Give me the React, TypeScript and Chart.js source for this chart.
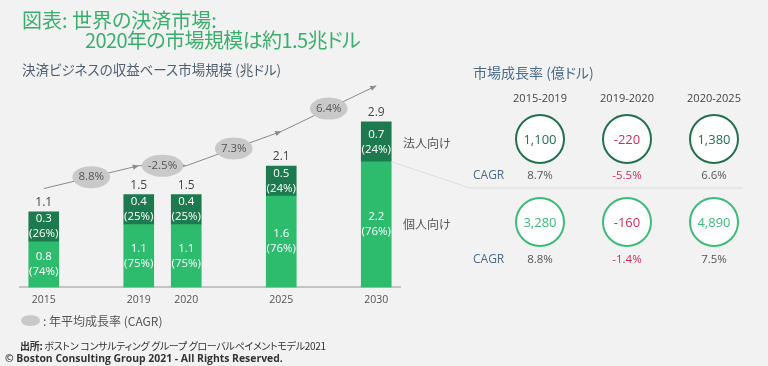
import { useEffect, useRef } from 'react';
import { Chart, registerables } from 'chart.js';

Chart.register(...registerables);

// ---- data ----
const categories = ['2015', '', '2019', '2020', '', '2025', '', '2030'];
const personalValues = [0.8, null, 1.1, 1.1, null, 1.6, null, 2.2];
const corporateValues = [0.3, null, 0.4, 0.4, null, 0.5, null, 0.7];
const personalShare = [74, null, 75, 75, null, 76, null, 76];
const corporateShare = [26, null, 25, 25, null, 24, null, 24];
const totalValues = [1.1, null, 1.5, 1.5, null, 2.1, null, 2.9];
const trendCagr = ['8.8%', '-2.5%', '7.3%', '6.4%'];

const periods = ['2015-2019', '2019-2020', '2020-2025'];
const corporateGrowth = [1100, -220, 1380];
const corporateCagr = [8.7, -5.5, 6.6];
const personalGrowth = [3280, -160, 4890];
const personalCagr = [8.8, -1.4, 7.5];

// ---- styles ----
const DARK = '#1d7a4e';
const LIGHT = '#2dbb6e';
const TITLE_GREEN = '#3aae6b';
const RED = '#d42a5b';
const CIRCLE_DARK = '#23704f';
const CIRCLE_LIGHT = '#3dbb7a';
const SLATE = '#4a6b8a';
const LATIN = '"Open Sans", "Noto Sans CJK JP", sans-serif';
const JP = '"Noto Sans CJK JP", sans-serif';

const overlayPlugin = {
  id: 'overlay',
  afterDatasetsDraw(chart: any) {
    const ctx = chart.ctx as CanvasRenderingContext2D;
    const yScale = chart.scales.y;
    const metaP = chart.getDatasetMeta(0);
    const metaC = chart.getDatasetMeta(1);
    ctx.save();
    ctx.textAlign = 'center';
    ctx.textBaseline = 'middle';

    const segLabel = (el: any, v: number, s: number) => {
      const cy = (el.y + el.base) / 2;
      ctx.fillStyle = '#ffffff';
      ctx.font = `11.5px ${LATIN}`;
      ctx.fillText(v.toFixed(1), el.x, cy - 7.5);
      ctx.fillText(`(${s}%)`, el.x, cy + 7.5);
    };

    const idx: number[] = [];
    categories.forEach((_, i) => {
      if (totalValues[i] == null) return;
      idx.push(i);
      const p = metaP.data[i];
      const c = metaC.data[i];
      segLabel(p, personalValues[i] as number, personalShare[i] as number);
      segLabel(c, corporateValues[i] as number, corporateShare[i] as number);
      ctx.fillStyle = '#444';
      ctx.font = `12px ${LATIN}`;
      ctx.fillText((totalValues[i] as number).toFixed(1), c.x, c.y - 9);
    });

    // connector line from last bar to right panel divider
    const last = metaC.data[idx[idx.length - 1]];
    ctx.strokeStyle = '#dcdcdc';
    ctx.lineWidth = 1;
    ctx.beginPath();
    ctx.moveTo(last.x + last.width / 2, last.base);
    ctx.lineTo(470, 188);
    ctx.lineTo(743, 188);
    ctx.stroke();

    // CAGR trend arrow
    const pts = idx.map((i) => ({
      x: metaC.data[i].x,
      y: yScale.getPixelForValue(totalValues[i]) - 36,
    }));
    ctx.strokeStyle = '#8a8a8a';
    ctx.fillStyle = '#8a8a8a';
    ctx.lineWidth = 1;
    ctx.beginPath();
    pts.forEach((p, k) => (k === 0 ? ctx.moveTo(p.x, p.y) : ctx.lineTo(p.x, p.y)));
    ctx.stroke();
    for (let k = 1; k < pts.length; k++) {
      const a = pts[k - 1], b = pts[k];
      const ang = Math.atan2(b.y - a.y, b.x - a.x);
      const L = 6, W = 2.6;
      ctx.beginPath();
      ctx.moveTo(b.x, b.y);
      ctx.lineTo(b.x - L * Math.cos(ang) + W * Math.sin(ang), b.y - L * Math.sin(ang) - W * Math.cos(ang));
      ctx.lineTo(b.x - L * Math.cos(ang) - W * Math.sin(ang), b.y - L * Math.sin(ang) + W * Math.cos(ang));
      ctx.closePath();
      ctx.fill();
    }
    ctx.font = `11.5px ${LATIN}`;
    for (let k = 1; k < pts.length; k++) {
      const a = pts[k - 1], b = pts[k];
      const mx = (a.x + b.x) / 2, my = (a.y + b.y) / 2;
      const label = trendCagr[k - 1];
      const tw = ctx.measureText(label).width;
      ctx.fillStyle = '#c9c9c9';
      ctx.beginPath();
      ctx.ellipse(mx, my, tw / 2 + 6, 11, 0, 0, Math.PI * 2);
      ctx.fill();
      ctx.fillStyle = '#555';
      ctx.fillText(label, mx, my);
    }
    ctx.restore();
  },
};

function Txt(props: { x: number; y: number; size: number; color: string; children: any; bold?: boolean; center?: boolean; family?: string; spacing?: number }) {
  const { x, y, size, color, children, bold, center, family, spacing } = props;
  return (
    <div
      style={{
        position: 'absolute',
        left: center ? x - 100 : x,
        width: center ? 200 : undefined,
        textAlign: center ? 'center' : 'left',
        top: y - size / 2,
        fontSize: size,
        lineHeight: `${size}px`,
        color,
        fontWeight: bold ? 700 : 400,
        fontFamily: family || JP,
        fontFeatureSettings: '"palt"',
        letterSpacing: spacing ? `${spacing}px` : undefined,
        whiteSpace: 'nowrap',
      }}
    >
      {children}
    </div>
  );
}

function Circle({ x, y, value, color }: { x: number; y: number; value: number; color: string }) {
  const textColor = value < 0 ? RED : color;
  return (
    <div
      style={{
        position: 'absolute',
        left: x - 25,
        top: y - 25,
        width: 50,
        height: 50,
        boxSizing: 'border-box',
        border: `2px solid ${color}`,
        borderRadius: '50%',
        background: '#ffffff',
        display: 'flex',
        alignItems: 'center',
        justifyContent: 'center',
        fontFamily: LATIN,
        fontSize: 13,
        color: textColor,
      }}
    >
      {value.toLocaleString('en-US')}
    </div>
  );
}

export default function App() {
  const ref = useRef<HTMLCanvasElement>(null);
  useEffect(() => {
    document.body.style.margin = '0';
    document.body.style.background = '#f2f2f2';
    const chart = new Chart(ref.current as HTMLCanvasElement, {
      type: 'bar',
      data: {
        labels: categories,
        datasets: [
          { label: '個人向け', data: personalValues as any, backgroundColor: LIGHT, stack: 's', barThickness: 30 } as any,
          { label: '法人向け', data: corporateValues as any, backgroundColor: DARK, stack: 's', barThickness: 30, minBarLength: 30 } as any,
        ],
      },
      options: {
        responsive: false,
        animation: false,
        layout: { padding: { left: 20, right: 368, top: 87.5, bottom: 54 } },
        plugins: { legend: { display: false }, tooltip: { enabled: false } },
        scales: {
          x: {
            stacked: true,
            grid: { display: false, drawTicks: false },
            border: { display: true, color: '#c4c4c4', width: 2 },
            ticks: { color: '#555', font: { size: 10.5, family: LATIN }, padding: 6, autoSkip: false, maxRotation: 0 },
          },
          y: { stacked: true, display: false, min: 0, max: 3.5 },
        },
      },
      plugins: [overlayPlugin],
    });
    return () => chart.destroy();
  }, []);

  const colX = [540, 627, 714];
  return (
    <div style={{ position: 'relative', width: 768, height: 366, background: '#f2f2f2', overflow: 'hidden' }}>
      <canvas ref={ref} width={768} height={366} style={{ position: 'absolute', left: 0, top: 0, display: 'block' }} />
      <Txt x={22} y={19.5} size={20} color={TITLE_GREEN}>図表: 世界の決済市場:</Txt>
      <Txt x={85} y={40} size={20} color={TITLE_GREEN} spacing={-0.6}>2020年の市場規模は約1.5兆ドル</Txt>
      <Txt x={22} y={70} size={13.5} color="#4f5f6f">決済ビジネスの収益ベース市場規模 (兆ドル)</Txt>
      <Txt x={473} y={72} size={14} color={SLATE}>市場成長率 (億ドル)</Txt>
      {periods.map((p, i) => (
        <Txt key={p} x={colX[i]} y={97} size={11} color="#444" center family={LATIN}>{p}</Txt>
      ))}
      <Txt x={403} y={143} size={12} color="#555">法人向け</Txt>
      <Txt x={403} y={224} size={12} color="#555">個人向け</Txt>
      {corporateGrowth.map((v, i) => (
        <Circle key={'c' + i} x={colX[i]} y={139} value={v} color={CIRCLE_DARK} />
      ))}
      {personalGrowth.map((v, i) => (
        <Circle key={'p' + i} x={colX[i]} y={222} value={v} color={CIRCLE_LIGHT} />
      ))}
      <Txt x={473} y={175} size={12} color={SLATE} family={LATIN}>CAGR</Txt>
      <Txt x={473} y={259} size={12} color={SLATE} family={LATIN}>CAGR</Txt>
      {corporateCagr.map((v, i) => (
        <Txt key={'cc' + i} x={colX[i]} y={175} size={11.5} color={v < 0 ? RED : '#555'} center family={LATIN}>{v.toFixed(1)}%</Txt>
      ))}
      {personalCagr.map((v, i) => (
        <Txt key={'pc' + i} x={colX[i]} y={259} size={11.5} color={v < 0 ? RED : '#555'} center family={LATIN}>{v.toFixed(1)}%</Txt>
      ))}
      <div style={{ position: 'absolute', left: 21, top: 315, width: 19, height: 11, borderRadius: '50%', background: '#c9c9c9' }} />
      <Txt x={43} y={321} size={12} color="#555">: 年平均成長率 (CAGR)</Txt>
      <Txt x={20} y={346} size={10} color="#333" spacing={-0.3}><b>出所:</b> ボストン コンサルティング グループ グローバルペイメントモデル2021</Txt>
      <Txt x={5} y={358} size={10.4} color="#333" bold family={LATIN}>© Boston Consulting Group 2021 - All Rights Reserved.</Txt>
    </div>
  );
}
